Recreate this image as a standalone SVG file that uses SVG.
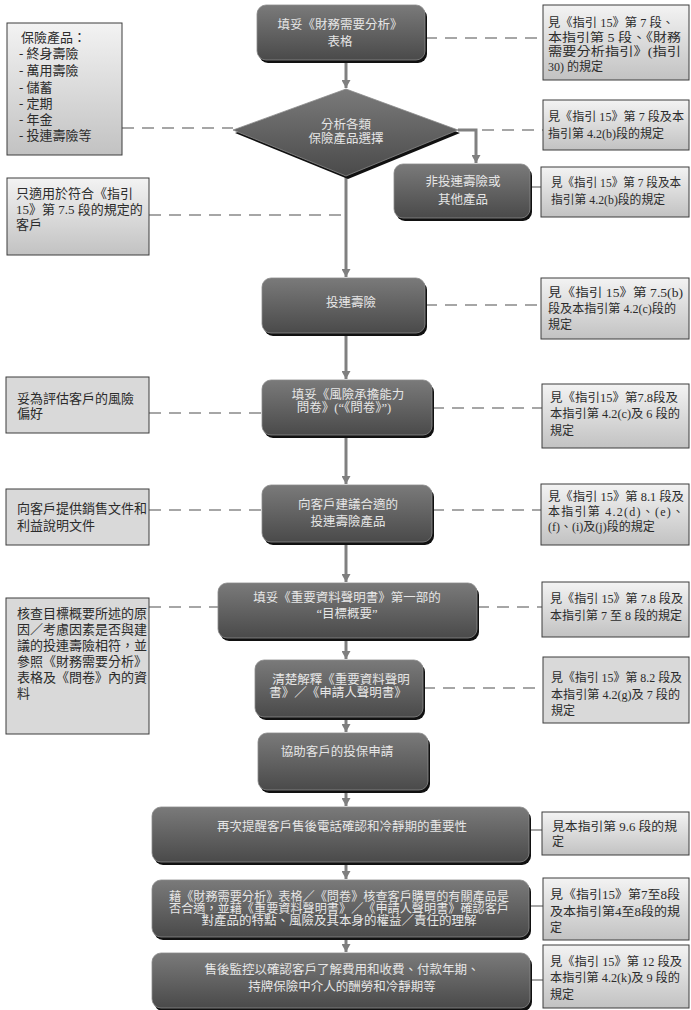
<svg xmlns="http://www.w3.org/2000/svg" width="691" height="1010" viewBox="0 0 691 1010">
<defs>
<linearGradient id="ng" x1="0" y1="0" x2="0" y2="1">
<stop offset="0" stop-color="#7a7a7a"/>
<stop offset="1" stop-color="#4a4a4a"/>
</linearGradient>
<linearGradient id="bg" x1="0" y1="0" x2="0" y2="1">
<stop offset="0" stop-color="#f3f3f3"/>
<stop offset="1" stop-color="#c2c2c2"/>
</linearGradient>
<marker id="ah" markerUnits="userSpaceOnUse" markerWidth="9" markerHeight="9" refX="8" refY="4.5" orient="auto">
<path d="M0,0 L8,4.5 L0,9 z" fill="#7f7f7f"/>
</marker>
<style>
text{font-family:"Liberation Serif","Noto Sans CJK TC",serif;}
.sh{fill:#111;}
.nd{fill:url(#ng);stroke:#8a8a8a;stroke-width:0.8;}
.nt{fill:#e6e6e6;font-size:12.5px;text-anchor:middle;dominant-baseline:central;}
.bx{fill:url(#bg);stroke:#3c3c3c;stroke-width:1;}
.bf{fill:#d9d9d9;stroke:#3c3c3c;stroke-width:1;}
.bt{fill:#2b2b2b;font-size:13px;dominant-baseline:central;}
.rt{fill:#2b2b2b;font-size:12px;dominant-baseline:central;}
.flow{stroke:#808080;stroke-width:3;fill:none;}
.dash{stroke:#a6a6a6;stroke-width:2;stroke-dasharray:12 8;fill:none;}
.thin{stroke:#a6a6a6;stroke-width:2;fill:none;}
</style>
</defs>
<rect width="691" height="1010" fill="#fff"/>

<g id="connectors">
<line class="flow" x1="346" y1="62" x2="346" y2="88" marker-end="url(#ah)"/>
<line class="flow" x1="346" y1="176" x2="346" y2="277" marker-end="url(#ah)"/>
<line class="flow" x1="346" y1="335" x2="346" y2="379" marker-end="url(#ah)"/>
<line class="flow" x1="346" y1="437" x2="346" y2="484" marker-end="url(#ah)"/>
<line class="flow" x1="346" y1="544" x2="346" y2="582" marker-end="url(#ah)"/>
<line class="flow" x1="346" y1="640" x2="346" y2="659" marker-end="url(#ah)"/>
<line class="flow" x1="346" y1="719" x2="346" y2="732" marker-end="url(#ah)"/>
<line class="flow" x1="346" y1="792" x2="346" y2="806" marker-end="url(#ah)"/>
<line class="flow" x1="346" y1="864" x2="346" y2="879" marker-end="url(#ah)"/>
<line class="flow" x1="346" y1="939" x2="346" y2="952" marker-end="url(#ah)"/>
<polyline class="flow" points="458,130 476,130 476,163" stroke-width="2.5" marker-end="url(#ah)"/>
<line class="dash" x1="122" y1="128" x2="233" y2="128"/>
<line class="dash" x1="149" y1="215" x2="345" y2="215"/>
<line class="dash" x1="425" y1="38" x2="543" y2="38"/>
<line class="dash" x1="482" y1="130" x2="543" y2="130"/>
<line class="thin" x1="530" y1="187" x2="542" y2="187"/>
<line class="dash" x1="425" y1="305" x2="541" y2="305"/>
<line class="dash" x1="149" y1="413" x2="262" y2="413"/>
<line class="dash" x1="432" y1="408" x2="542" y2="408"/>
<line class="dash" x1="149" y1="510" x2="262" y2="510"/>
<line class="dash" x1="432" y1="510" x2="541" y2="510"/>
<line class="dash" x1="149" y1="607" x2="218" y2="607"/>
<line class="dash" x1="477" y1="607" x2="542" y2="607"/>
<line class="dash" x1="423" y1="688" x2="543" y2="688"/>
<line class="thin" x1="529" y1="830" x2="542" y2="830"/>
<line class="thin" x1="529" y1="906" x2="543" y2="906"/>
<line class="thin" x1="530" y1="980" x2="543" y2="980"/>
</g>

<g id="n1">
<rect class="sh" x="259" y="8" width="168" height="55" rx="9"/>
<rect class="nd" x="257" y="5" width="168" height="55" rx="9"/>
<text class="nt" x="340" y="25">填妥《財務需要分析》</text>
<text class="nt" x="340" y="42">表格</text>
</g>

<g id="n2">
<polygon class="sh" points="348,92 460,133 348,179 235,133"/>
<polygon class="nd" points="346,89 458,130 346,176 233,130"/>
<text class="nt" x="346" y="125">分析各類</text>
<text class="nt" x="346" y="139">保險產品選擇</text>
</g>

<g id="n3">
<rect class="sh" x="396" y="167" width="136" height="54" rx="9"/>
<rect class="nd" x="394" y="164" width="136" height="54" rx="9"/>
<text class="nt" x="463" y="182">非投連壽險或</text>
<text class="nt" x="463" y="200">其他產品</text>
</g>

<g id="n4">
<rect class="sh" x="264" y="281" width="163" height="55" rx="9"/>
<rect class="nd" x="262" y="278" width="163" height="55" rx="9"/>
<text class="nt" x="351" y="303">投連壽險</text>
</g>

<g id="n5">
<rect class="sh" x="264" y="383" width="170" height="55" rx="9"/>
<rect class="nd" x="262" y="380" width="170" height="55" rx="9"/>
<text class="nt" x="348" y="395">填妥《風險承擔能力</text>
<text class="nt" x="344" y="408">問卷》(“《問卷》”)</text>
</g>

<g id="n6">
<rect class="sh" x="264" y="488" width="170" height="57" rx="9"/>
<rect class="nd" x="262" y="485" width="170" height="57" rx="9"/>
<text class="nt" x="348" y="505">向客戶建議合適的</text>
<text class="nt" x="348" y="522">投連壽險產品</text>
</g>

<g id="n7">
<rect class="sh" x="220" y="586" width="259" height="55" rx="9"/>
<rect class="nd" x="218" y="583" width="259" height="55" rx="9"/>
<text class="nt" x="347" y="598">填妥《重要資料聲明書》第一部的</text>
<text class="nt" x="347" y="614">“目標概要”</text>
</g>

<g id="n8">
<rect class="sh" x="257" y="663" width="168" height="57" rx="9"/>
<rect class="nd" x="255" y="660" width="168" height="57" rx="9"/>
<text class="nt" x="341" y="680">清楚解釋《重要資料聲明</text>
<text class="nt" x="338" y="693">書》／《申請人聲明書》</text>
</g>

<g id="n9">
<rect class="sh" x="260" y="736" width="170" height="57" rx="9"/>
<rect class="nd" x="258" y="733" width="170" height="57" rx="9"/>
<text class="nt" x="337" y="752">協助客戶的投保申請</text>
</g>

<g id="n10">
<rect class="sh" x="154" y="810" width="377" height="55" rx="9"/>
<rect class="nd" x="152" y="807" width="377" height="55" rx="9"/>
<text class="nt" x="342" y="827">再次提醒客戶售後電話確認和冷靜期的重要性</text>
</g>

<g id="n11">
<rect class="sh" x="154" y="883" width="377" height="57" rx="9"/>
<rect class="nd" x="152" y="880" width="377" height="57" rx="9"/>
<text class="nt" x="339" y="897" textLength="340" lengthAdjust="spacingAndGlyphs">藉《財務需要分析》表格／《問卷》核查客戶購買的有關產品是</text>
<text class="nt" x="339" y="909" textLength="340" lengthAdjust="spacingAndGlyphs">否合適，並藉《重要資料聲明書》／《申請人聲明書》確認客戶</text>
<text class="nt" x="339" y="921">對產品的特點、風險及其本身的權益／責任的理解</text>
</g>

<g id="n12">
<rect class="sh" x="154" y="956" width="378" height="55" rx="9"/>
<rect class="nd" x="152" y="953" width="378" height="55" rx="9"/>
<text class="nt" x="342" y="970">售後監控以確認客戶了解費用和收費、付款年期、</text>
<text class="nt" x="342" y="987">持牌保險中介人的酬勞和冷靜期等</text>
</g>

<g id="L1">
<rect class="bx" x="7" y="23" width="115" height="132"/>
<text class="bt" x="21" y="37">保險產品：</text>
<text class="bt" x="19" y="53">- 終身壽險</text>
<text class="bt" x="19" y="70">- 萬用壽險</text>
<text class="bt" x="19" y="87">- 儲蓄</text>
<text class="bt" x="19" y="103">- 定期</text>
<text class="bt" x="19" y="119">- 年金</text>
<text class="bt" x="19" y="135">- 投連壽險等</text>
</g>

<g id="L2">
<rect class="bx" x="7" y="178" width="142" height="77"/>
<text class="bt" x="16" y="193">只適用於符合《指引</text>
<text class="bt" x="16" y="209">15》第 7.5 段的規定的</text>
<text class="bt" x="16" y="224">客戶</text>
</g>

<g id="L3">
<rect class="bf" x="6" y="377" width="143" height="56"/>
<text class="bt" x="17" y="398">妥為評估客戶的風險</text>
<text class="bt" x="17" y="413">偏好</text>
</g>

<g id="L4">
<rect class="bf" x="6" y="489" width="143" height="56"/>
<text class="bt" x="17" y="508">向客戶提供銷售文件和</text>
<text class="bt" x="17" y="525">利益說明文件</text>
</g>

<g id="L5">
<rect class="bf" x="6" y="598" width="143" height="136"/>
<text class="bt" x="17" y="613">核查目標概要所述的原</text>
<text class="bt" x="17" y="629">因／考慮因素是否與建</text>
<text class="bt" x="17" y="645">議的投連壽險相符，並</text>
<text class="bt" x="17" y="661">參照《財務需要分析》</text>
<text class="bt" x="17" y="677">表格及《問卷》內的資</text>
<text class="bt" x="17" y="693">料</text>
</g>

<g id="R1">
<rect class="bx" x="543" y="5" width="146" height="75"/>
<text class="rt" x="548" y="23" textLength="126" lengthAdjust="spacingAndGlyphs">見《指引 15》第 7 段、</text>
<text class="rt" x="548" y="38" textLength="133" lengthAdjust="spacingAndGlyphs">本指引第 5 段、《財務</text>
<text class="rt" x="548" y="52" textLength="133" lengthAdjust="spacingAndGlyphs">需要分析指引》(指引</text>
<text class="rt" x="548" y="67">30) 的規定</text>
</g>

<g id="R2">
<rect class="bx" x="543" y="100" width="146" height="50"/>
<text class="rt" x="548" y="117" textLength="136" lengthAdjust="spacingAndGlyphs">見《指引 15》第 7 段及本</text>
<text class="rt" x="548" y="134" textLength="116" lengthAdjust="spacingAndGlyphs">指引第 4.2(b)段的規定</text>
</g>

<g id="R3">
<rect class="bx" x="541" y="167" width="148" height="50"/>
<text class="rt" x="551" y="183" textLength="130" lengthAdjust="spacingAndGlyphs">見《指引 15》第 7 段及本</text>
<text class="rt" x="551" y="200" textLength="114" lengthAdjust="spacingAndGlyphs">指引第 4.2(b)段的規定</text>
</g>

<g id="R4">
<rect class="bx" x="541" y="278" width="148" height="61"/>
<text class="rt" x="548" y="293" textLength="135" lengthAdjust="spacingAndGlyphs">見《指引 15》第 7.5(b)</text>
<text class="rt" x="548" y="309" textLength="128" lengthAdjust="spacingAndGlyphs">段及本指引第 4.2(c)段的</text>
<text class="rt" x="548" y="325">規定</text>
</g>

<g id="R5">
<rect class="bx" x="542" y="384" width="147" height="64"/>
<text class="rt" x="550" y="398" textLength="128" lengthAdjust="spacingAndGlyphs">見《指引15》第7.8段及</text>
<text class="rt" x="550" y="414" textLength="130" lengthAdjust="spacingAndGlyphs">本指引第 4.2(c)及 6 段的</text>
<text class="rt" x="550" y="431">規定</text>
</g>

<g id="R6">
<rect class="bx" x="541" y="484" width="148" height="61"/>
<text class="rt" x="548" y="497" textLength="136" lengthAdjust="spacingAndGlyphs">見《指引 15》第 8.1 段及</text>
<text class="rt" x="548" y="512" textLength="136" lengthAdjust="spacing">本指引第 4.2(d)、(e)、</text>
<text class="rt" x="548" y="527">(f)、(i)及(j)段的規定</text>
</g>

<g id="R7">
<rect class="bx" x="542" y="582" width="147" height="55"/>
<text class="rt" x="550" y="599" textLength="133" lengthAdjust="spacingAndGlyphs">見《指引 15》第 7.8 段及</text>
<text class="rt" x="550" y="616" textLength="132" lengthAdjust="spacingAndGlyphs">本指引第 7 至 8 段的規定</text>
</g>

<g id="R8">
<rect class="bf" x="543" y="657" width="146" height="66"/>
<text class="rt" x="551" y="678" textLength="131" lengthAdjust="spacingAndGlyphs">見《指引 15》第 8.2 段及</text>
<text class="rt" x="551" y="695" textLength="129" lengthAdjust="spacingAndGlyphs">本指引第 4.2(g)及 7 段的</text>
<text class="rt" x="551" y="711">規定</text>
</g>

<g id="R9">
<rect class="bx" x="542" y="812" width="147" height="43"/>
<text class="rt" x="552" y="827" textLength="125" lengthAdjust="spacingAndGlyphs">見本指引第 9.6 段的規</text>
<text class="rt" x="552" y="842">定</text>
</g>

<g id="R10">
<rect class="bx" x="543" y="878" width="146" height="62"/>
<text class="rt" x="550" y="895" textLength="130" lengthAdjust="spacingAndGlyphs">見《指引15》第7至8段</text>
<text class="rt" x="550" y="912" textLength="130" lengthAdjust="spacingAndGlyphs">及本指引第4至8段的規</text>
<text class="rt" x="550" y="928">定</text>
</g>

<g id="R11">
<rect class="bx" x="543" y="945" width="146" height="63"/>
<text class="rt" x="550" y="962" textLength="132" lengthAdjust="spacingAndGlyphs">見《指引 15》第 12 段及</text>
<text class="rt" x="550" y="978" textLength="130" lengthAdjust="spacingAndGlyphs">本指引第 4.2(k)及 9 段的</text>
<text class="rt" x="550" y="995">規定</text>
</g>
</svg>
